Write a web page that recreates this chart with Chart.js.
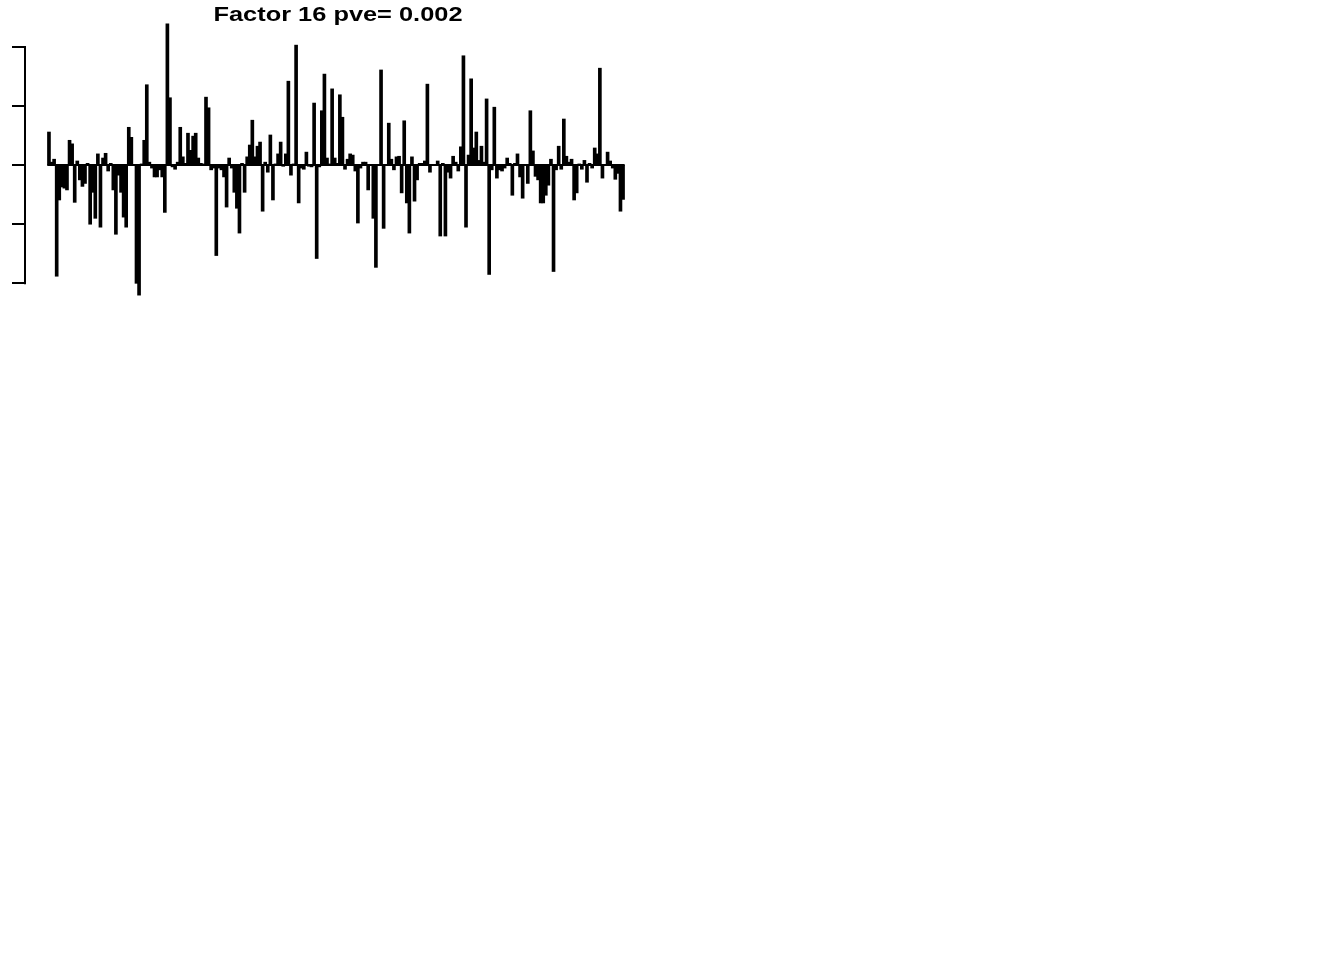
<!DOCTYPE html>
<html>
<head>
<meta charset="utf-8">
<script src="https://cdn.jsdelivr.net/npm/chart.js@4/dist/chart.umd.min.js"></script>
<style>
  html, body { margin: 0; padding: 0; background: #fff; }
  #wrap { width: 1344px; height: 960px; position: relative; }
</style>
</head>
<body>
<div id="wrap"><canvas id="c"></canvas></div>
<script>
const titleText = "Factor 16 pve= 0.002";
const yTicks = [-2, -1, 0, 1, 2];
const loadings = [
  0.56, 0.05, 0.10, -1.88, -0.59, -0.37, -0.39, -0.42, 0.42, 0.36,
  -0.63, 0.07, -0.25, -0.36, -0.31, 0.03, -1.00, -0.46, -0.90, 0.19,
  -1.05, 0.12, 0.20, -0.10, 0.03, -0.42, -1.17, -0.17, -0.46, -0.88,
  -1.05, 0.64, 0.47, 0.01, -2.00, -2.20, 0.02, 0.42, 1.36, 0.05, -0.05,
  -0.20, -0.20, -0.08, -0.20, -0.80, 2.39, 1.14, -0.03, -0.07, 0.05,
  0.64, 0.14, 0.03, 0.54, 0.25, 0.49, 0.54, 0.12, 0.03, 0.02,
  1.15, 0.97, -0.08, -0.05, -1.53, -0.05, -0.08, -0.20, -0.71, 0.12,
  -0.05, -0.46, -0.73, -1.15, 0.03, -0.46, 0.14, 0.34, 0.76, 0.14,
  0.32, 0.39, -0.78, 0.05, -0.12, 0.51, -0.59, 0.02, 0.19, 0.39,
  -0.02, 0.19, 1.42, -0.17, 0.02, 2.03, -0.64, -0.05, -0.07, 0.22,
  -0.02, -0.03, 1.05, -1.58, -0.03, 0.92, 1.54, 0.12, 0.02, 1.29,
  0.12, 0.03, 1.19, 0.81, -0.07, 0.10, 0.19, 0.17, -0.10, -0.98,
  -0.05, 0.05, 0.05, -0.42, 0.01, -0.90, -1.73, 0.01, 1.61, -1.07,
  0.01, 0.71, 0.10, -0.08, 0.14, 0.15, -0.47, 0.75, -0.64, -1.15,
  0.14, -0.61, -0.25, 0.03, 0.03, 0.07, 1.37, -0.12, 0.01, 0.01,
  0.07, -1.20, 0.03, -1.20, -0.12, -0.22, 0.15, 0.05, -0.10, 0.31,
  1.85, -1.05, 0.17, 1.46, 0.29, 0.56, 0.08, 0.32, 0.05,
  1.12, -1.85, -0.08, 0.98, -0.22, -0.08, -0.10, -0.05, 0.12, 0.03,
  -0.51, 0.03, 0.19, -0.20, -0.56, 0.01, -0.31, 0.92, 0.24, -0.19,
  -0.25, -0.64, -0.64, -0.51, -0.34, 0.10, -1.80, -0.08, 0.32, -0.07,
  0.78, 0.15, 0.05, 0.10, -0.59, -0.47, 0.02, -0.07, 0.08, -0.29,
  0.03, -0.05, 0.29, 0.19, 1.64, -0.22, 0.01, 0.22, 0.07, -0.05,
  -0.24, -0.14, -0.78, -0.58
];
const sampleIndex = loadings.map((_, i) => i + 1);

const n = loadings.length;
const xPad = 0.04 * (n - 1);
const yMinData = Math.min(...loadings), yMaxData = Math.max(...loadings);
const yPad = 0.04 * (yMaxData - yMinData);

const rStyle = {
  id: 'rStyle',
  afterDraw(chart) {
    const ctx = chart.ctx;
    const y = chart.scales.y;
    const a = chart.chartArea;
    const ax = a.left - 1;
    ctx.save();
    ctx.strokeStyle = '#000';
    ctx.lineWidth = 2;
    ctx.lineCap = 'butt';
    ctx.beginPath();
    const top = y.getPixelForValue(yTicks[yTicks.length - 1]);
    const bot = y.getPixelForValue(yTicks[0]);
    ctx.moveTo(ax, top - 1);
    ctx.lineTo(ax, bot + 1);
    yTicks.forEach(t => {
      const py = Math.round(y.getPixelForValue(t));
      ctx.moveTo(ax, py);
      ctx.lineTo(ax - 13, py);
    });
    ctx.stroke();
    // title
    ctx.fillStyle = '#000';
    ctx.font = 'bold 20px "Liberation Sans", Arial, Helvetica, sans-serif';
    ctx.textBaseline = 'alphabetic';
    ctx.textAlign = 'left';
    const w = ctx.measureText(titleText).width;
    const target = 249;
    const sx = target / w;
    const cx = (a.left + a.right) / 2 + 2;
    ctx.translate(cx - target / 2, 20.5);
    ctx.scale(sx, 1);
    ctx.fillText(titleText, 0, 0);
    ctx.restore();
  }
};

new Chart(document.getElementById('c'), {
  data: {
    datasets: [
      {
        type: 'bar',
        data: sampleIndex.map((x, i) => ({ x: x, y: loadings[i] })),
        backgroundColor: '#000',
        borderWidth: 0,
        barThickness: 3,
        order: 2
      },
      {
        type: 'line',
        data: [{ x: sampleIndex[0] - 0.6, y: 0 }, { x: sampleIndex[n - 1] + 0.6, y: 0 }],
        borderColor: '#000',
        borderWidth: 2,
        pointRadius: 0,
        order: 1
      }
    ]
  },
  options: {
    responsive: true,
    maintainAspectRatio: false,
    animation: false,
    layout: { padding: { left: 26, top: 13, right: 698, bottom: 654 } },
    plugins: { legend: { display: false }, tooltip: { enabled: false }, title: { display: false } },
    scales: {
      x: { type: 'linear', display: false, min: 1 - xPad, max: n + xPad, offset: false },
      y: { type: 'linear', display: false, min: yMinData - yPad, max: yMaxData + yPad }
    }
  },
  plugins: [rStyle]
});
</script>
</body>
</html>
